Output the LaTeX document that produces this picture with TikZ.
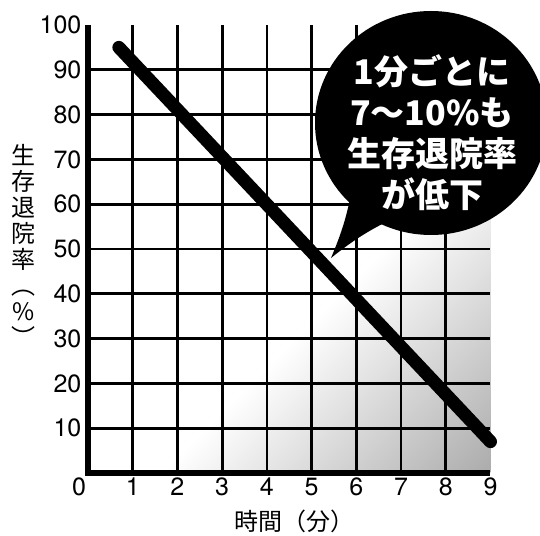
\documentclass[tikz,border=0pt]{standalone}
\usepackage{fontspec}
\setmainfont{TeX Gyre Heros}
\newfontfamily\jpfont{Noto Sans CJK JP}
\pgfdeclarehorizontalshading{gridfade}{100bp}{color(0bp)=(white); color(58bp)=(white); color(100bp)=(black!50)}

\begin{document}
\begin{tikzpicture}[x=44.72bp, y=4.48bp,
  gridline/.style = {line width=2.7bp},
  axisline/.style = {line width=5bp, line join=miter},
  trend/.style = {line width=13bp, line cap=round},
  ticklabel/.style = {font=\fontsize{25bp}{25bp}\selectfont, inner sep=0pt},
  axistitle/.style = {font=\jpfont\fontsize{24bp}{26bp}\selectfont,
    inner sep=0pt, align=center},
  bubble text/.style = {font=\jpfont\bfseries\fontsize{34bp}{41bp}\selectfont,
    text=white, align=center, inner sep=0pt}]
  \useasboundingbox (-88bp,-63bp) rectangle (452bp,473bp);
  \shade[shading=gridfade, shading angle=-45] (0,0) rectangle (9,100);
  \foreach \x in {1,...,8}
    \draw[gridline] (\x,0) -- (\x,100);
  \foreach \y in {10,20,...,90}
    \draw[gridline] (0,\y) -- (9,\y);
  \draw[axisline] (0,100) -- (0,0) -- (9,0);
  % tick labels
  \foreach \y in {10,20,...,100}
    \node[ticklabel, anchor=east, xshift=-6.5bp] (y\y) at (0,\y) {\y};
  \node[ticklabel, xshift=-9bp, yshift=-14bp] (x0) at (0,0) {0};
  \foreach \x in {1,...,9}
    \node[ticklabel, yshift=-14bp] (x\x) at (\x,0) {\x};
  \node[axistitle] (ytitle) at (-64bp,228bp) {生\\存\\退\\院\\率\\︵\\\%\\︶};
  \node[axistitle] (xtitle) at (206bp,-48bp) {時間（分）};
  % trend line
  \coordinate (start) at (0.69,95);
  \coordinate (stop) at (9,7);
  \draw[trend] (start) -- (stop);
  % speech bubble
  \coordinate (tip) at (243bp,215bp);
  \fill (343bp,350bp) ellipse [x radius=116bp, y radius=112bp];
  \fill (264bp,284bp) to[bend left=6] (tip) to[bend left=6] (304bp,254bp) -- cycle;
  \node[bubble text] (note) at (344bp,340bp) {1分ごとに\\7〜10\%も\\生存退院率\\が低下};
\end{tikzpicture}
\end{document}
